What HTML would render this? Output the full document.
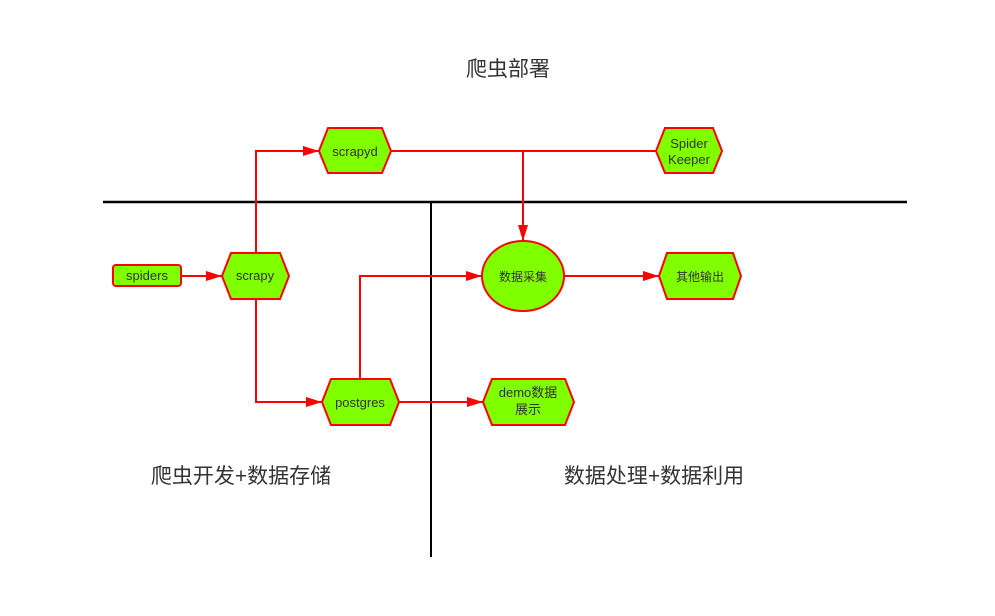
<!DOCTYPE html>
<html><head><meta charset="utf-8"><style>
html,body{margin:0;padding:0;background:#fff;}
svg{display:block;}
text{font-family:"Liberation Sans","Noto Sans CJK SC",sans-serif;fill:#333;}
</style></head><body>
<svg width="995" height="616" viewBox="0 0 995 616" xmlns="http://www.w3.org/2000/svg">
<defs>
<marker id="a" markerWidth="10" markerHeight="8" refX="10" refY="4" orient="auto" markerUnits="userSpaceOnUse"><path d="M0,0 L10,4 L0,8 Z" fill="#ff0000"/></marker>
<marker id="b" markerWidth="16" markerHeight="10" refX="16" refY="5" orient="auto" markerUnits="userSpaceOnUse"><path d="M0,0 L16,5 L0,10 Z" fill="#ff0000"/></marker>
</defs>
<rect width="995" height="616" fill="#fff"/>
<line x1="103" y1="202" x2="907" y2="202" stroke="#000" stroke-width="2.5"/>
<line x1="431" y1="202" x2="431" y2="557" stroke="#000" stroke-width="2"/>
<g fill="none" stroke="#ff0000" stroke-width="2">
<path d="M181,276 L222,276" marker-end="url(#b)"/>
<path d="M256,253 L256,151 L319,151" marker-end="url(#b)"/>
<path d="M256,299 L256,402 L322,402" marker-end="url(#b)"/>
<path d="M391,151 L656,151"/>
<path d="M523,151 L523,241" marker-end="url(#b)"/>
<path d="M360,379 L360,276 L482,276" marker-end="url(#b)"/>
<path d="M399,402 L483,402" marker-end="url(#b)"/>
<path d="M564,276 L659,276" marker-end="url(#b)"/>
</g>
<g fill="#80ff00" stroke="#ff0000" stroke-width="2">
<rect x="113" y="265" width="68" height="21" rx="3"/>
<polygon points="222,276 231,253 280,253 289,276 280,299 231,299"/>
<polygon points="319,151 328,128 382,128 391,151 382,173 328,173"/>
<polygon points="322,402 331,379 390,379 399,402 390,425 331,425"/>
<ellipse cx="523" cy="276" rx="41" ry="35"/>
<polygon points="483,402 492,379 565,379 574,402 565,425 492,425"/>
<polygon points="659,276 667,253 733,253 741,276 733,299 667,299"/>
<polygon points="656,151 665,128 713,128 722,151 713,173 665,173"/>
</g>
<g font-size="13" text-anchor="middle">
<text x="147" y="280">spiders</text>
<text x="255" y="280">scrapy</text>
<text x="355" y="156">scrapyd</text>
<text x="360" y="407">postgres</text>
<text x="523" y="281" font-size="12">数据采集</text>
<text x="528" y="397">demo数据</text>
<text x="528" y="414">展示</text>
<text x="700" y="281" font-size="12">其他输出</text>
<text x="689" y="148">Spider</text>
<text x="689" y="164">Keeper</text>
</g>
<g font-size="21" text-anchor="middle">
<text x="508" y="76">爬虫部署</text>
<text x="241" y="483">爬虫开发+数据存储</text>
<text x="654" y="483">数据处理+数据利用</text>
</g>
</svg>
</body></html>
